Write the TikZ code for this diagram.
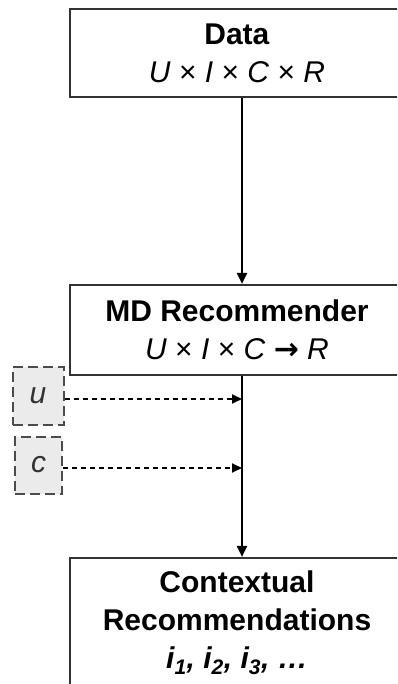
\documentclass[tikz,border=0pt]{standalone}
\usepackage{fontspec}
\setmainfont{Liberation Sans}
\newfontfamily\arrowfont{DejaVu Sans Bold}
\usetikzlibrary{arrows.meta}
\begin{document}
\begin{tikzpicture}[x=1pt,y=1pt,
  box/.style={draw=black!80, line width=2.2pt, fill=white, minimum width=334pt, inner sep=0pt, align=center, font=\fontsize{30}{38}\selectfont},
  ctx/.style={draw=black!70, dash pattern=on 10pt off 5pt, line width=2pt, fill=black!8, inner sep=0pt, font=\fontsize{30}{36}\selectfont\itshape, text=black!80},
  flow/.style={line width=2pt, -{Triangle[length=11pt,width=10pt]}},
  dflow/.style={line width=2pt, dash pattern=on 5pt off 4pt, -{Triangle[length=10pt,width=9pt]}}]
\useasboundingbox (0,0) rectangle (397,-684);
\clip (0,0) rectangle (397,-684);
\node[box, minimum height=88pt] (data) at (237,-53) {\textbf{Data}\\\textit{U} × \textit{I} × \textit{C} × \textit{R}};
\node[box, minimum height=90pt] (md) at (237,-330) {\textbf{MD Recommender}\\\textit{U} × \textit{I} × \textit{C} {\arrowfont→} \textit{R}};
\node[box, minimum height=130pt] (rec) at (237,-623) {\textbf{Contextual}\\\textbf{Recommendations}\\{\bfseries\itshape i\textsubscript{1}, i\textsubscript{2}, i\textsubscript{3}, …}};
\node[ctx, minimum width=51pt, minimum height=58pt] (u) at (38,-396) {u};
\node[ctx, minimum width=47pt, minimum height=57pt] (c) at (38.5,-465) {c};
\coordinate (mdx) at ([xshift=5pt]md.south);
\draw[flow] ([xshift=5pt]data.south) -- ([xshift=5pt]md.north);
\draw[flow] (mdx) -- ([xshift=5pt]rec.north);
\draw[dflow] ([yshift=-3pt]u.east) -- ([yshift=-3pt]u.east -| mdx);
\draw[dflow] ([yshift=-3pt]c.east) -- ([yshift=-3pt]c.east -| mdx);
\end{tikzpicture}
\end{document}
